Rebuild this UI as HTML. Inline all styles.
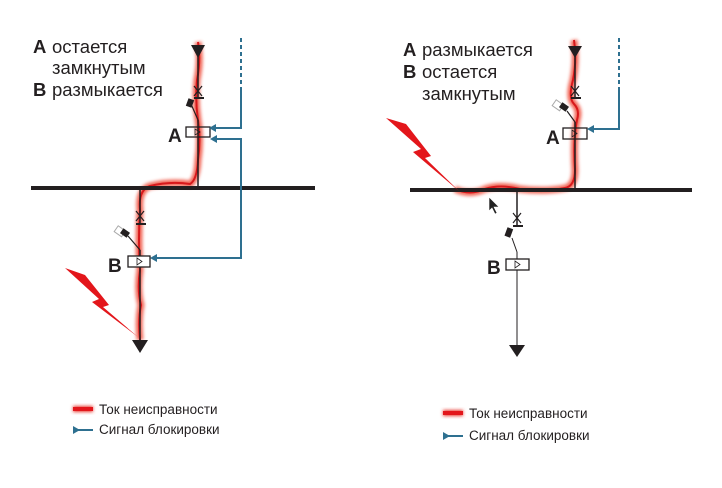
<!DOCTYPE html>
<html><head><meta charset="utf-8"><style>
body{margin:0;background:#fff;width:722px;height:488px;overflow:hidden}
svg{display:block}
text{font-family:"Liberation Sans",sans-serif;fill:#231f20}
</style></head><body>
<svg width="722" height="488" viewBox="0 0 722 488">
<defs>
<filter id="glow" x="-50%" y="-50%" width="200%" height="200%"><feGaussianBlur stdDeviation="1.6"/></filter>
</defs>
<!-- LEFT -->
<text x="33" y="53" font-size="18.5" font-weight="bold">A</text><text x="52" y="53" font-size="18.5">остается</text>
<text x="52" y="74" font-size="18.5">замкнутым</text>
<text x="33" y="96" font-size="18.5" font-weight="bold">B</text><text x="52" y="96" font-size="18.5">размыкается</text>

<path d="M198 42 Q201 60 197 80 Q195 100 198 120 Q201 140 198 160 Q197 180 190 184 Q170 181 150 186 Q138 190 140 210 Q138 240 140 270 Q137 290 141 305 Q138 320 140 340" fill="none" stroke="#f05a4a" stroke-width="7" filter="url(#glow)" opacity="0.9"/>
<path d="M198 42 Q201 60 197 80 Q195 100 198 120 Q201 140 198 160 Q197 180 190 184 Q170 181 150 186 Q138 190 140 210 Q138 240 140 270 Q137 290 141 305 Q138 320 140 340" fill="none" stroke="#d7191c" stroke-width="2"/>

<line x1="31" y1="188" x2="315" y2="188" stroke="#231f20" stroke-width="4"/>
<polygon points="191,45 205,45 198,58" fill="#231f20"/>
<line x1="198" y1="45" x2="198" y2="98" stroke="#231f20" stroke-width="1.5"/>
<path d="M194 86 L202 96 M202 86 L194 96" stroke="#231f20" stroke-width="1.2"/>
<line x1="194" y1="98" x2="204" y2="98" stroke="#231f20" stroke-width="2"/>
<line x1="191" y1="104" x2="198" y2="120" stroke="#231f20" stroke-width="1.2"/>
<rect x="187" y="99" width="6" height="8" fill="#231f20" transform="rotate(20 190 103)"/>
<line x1="198" y1="120" x2="198" y2="188" stroke="#231f20" stroke-width="1.5"/>
<rect x="186" y="127" width="24" height="10" fill="none" stroke="#231f20" stroke-width="1.3"/>
<path d="M195 129 L200 132 L195 135 Z" fill="none" stroke="#231f20" stroke-width="0.8"/>
<text x="168" y="142" font-size="19" font-weight="bold">A</text>
<line x1="241" y1="38" x2="241" y2="88" stroke="#2e7090" stroke-width="2" stroke-dasharray="4,3"/>
<polyline points="241,88 241,128 214,128" fill="none" stroke="#2e7090" stroke-width="2"/>
<polygon points="209,128 216,124 216,132" fill="#2e7090"/>
<polyline points="214,139 241,139 241,258 156,258" fill="none" stroke="#2e7090" stroke-width="2"/>
<polygon points="210,139 217,135 217,143" fill="#2e7090"/>
<polygon points="150,258 157,254 157,262" fill="#2e7090"/>
<line x1="140" y1="188" x2="140" y2="224" stroke="#231f20" stroke-width="1.5"/>
<path d="M136 211 L144 221 M144 211 L136 221" stroke="#231f20" stroke-width="1.2"/>
<line x1="136" y1="224" x2="146" y2="224" stroke="#231f20" stroke-width="2"/>
<rect x="117" y="227" width="7" height="9" fill="none" stroke="#aaa" stroke-width="1" transform="rotate(-55 120 232)"/>
<rect x="122" y="229" width="6" height="8" fill="#231f20" transform="rotate(-55 125 233)"/>
<line x1="128" y1="236" x2="140" y2="250" stroke="#231f20" stroke-width="1.2"/>
<line x1="140" y1="250" x2="140" y2="340" stroke="#231f20" stroke-width="1.5"/>
<rect x="128" y="256" width="22" height="11" fill="#fff" stroke="#231f20" stroke-width="1.3"/>
<path d="M137 258 L142 261.5 L137 265 Z" fill="none" stroke="#231f20" stroke-width="0.8"/>
<text x="108" y="272" font-size="19" font-weight="bold">B</text>
<polygon points="132,340 148,340 140,353" fill="#231f20"/>
<polygon points="65,268 85,275 109,305 103,307 138,337 92,302 99,299" fill="#e3161b"/>

<!-- RIGHT -->
<text x="403" y="56" font-size="18.5" font-weight="bold">A</text><text x="422" y="56" font-size="18.5">размыкается</text>
<text x="403" y="78" font-size="18.5" font-weight="bold">B</text><text x="422" y="78" font-size="18.5">остается</text>
<text x="422" y="100" font-size="18.5">замкнутым</text>

<path d="M455 189 Q470 196 485 189 Q500 184 520 189 Q545 192 565 188 Q575 186 575 170 Q573 140 577 120 Q580 110 574 104 Q568 98 573 80 Q577 60 574 40" fill="none" stroke="#f05a4a" stroke-width="7" filter="url(#glow)" opacity="0.9"/>
<path d="M455 189 Q470 196 485 189 Q500 184 520 189 Q545 192 565 188 Q575 186 575 170 Q573 140 577 120 Q580 110 574 104 Q568 98 573 80 Q577 60 574 40" fill="none" stroke="#d7191c" stroke-width="2"/>

<line x1="410" y1="190" x2="692" y2="190" stroke="#231f20" stroke-width="4"/>
<polygon points="568,46 582,46 575,58" fill="#231f20"/>
<line x1="575" y1="46" x2="575" y2="98" stroke="#231f20" stroke-width="1.5"/>
<path d="M571 86 L579 96 M579 86 L571 96" stroke="#231f20" stroke-width="1.2"/>
<line x1="571" y1="98" x2="581" y2="98" stroke="#231f20" stroke-width="2"/>
<rect x="555" y="101" width="7" height="9" fill="none" stroke="#aaa" stroke-width="1" transform="rotate(-55 558 106)"/>
<rect x="561" y="103" width="6" height="8" fill="#231f20" transform="rotate(-55 564 107)"/>
<line x1="567" y1="111" x2="575" y2="122" stroke="#231f20" stroke-width="1.2"/>
<line x1="575" y1="122" x2="575" y2="190" stroke="#231f20" stroke-width="1.5"/>
<rect x="563" y="128" width="24" height="11" fill="none" stroke="#231f20" stroke-width="1.3"/>
<path d="M572 130 L577 133.5 L572 137 Z" fill="none" stroke="#231f20" stroke-width="0.8"/>
<text x="546" y="144" font-size="19" font-weight="bold">A</text>
<line x1="619" y1="38" x2="619" y2="88" stroke="#2e7090" stroke-width="2" stroke-dasharray="4,3"/>
<polyline points="619,88 619,129 592,129" fill="none" stroke="#2e7090" stroke-width="2"/>
<polygon points="587,129 594,125 594,133" fill="#2e7090"/>

<line x1="517" y1="190" x2="517" y2="226" stroke="#231f20" stroke-width="1.5"/>
<path d="M513 213 L521 223 M521 213 L513 223" stroke="#231f20" stroke-width="1.2"/>
<line x1="513" y1="226" x2="523" y2="226" stroke="#231f20" stroke-width="2"/>
<rect x="506" y="228" width="6" height="9" fill="#231f20" transform="rotate(20 509 232)"/>
<line x1="512" y1="238" x2="517" y2="252" stroke="#231f20" stroke-width="1"/>
<line x1="517" y1="252" x2="517" y2="345" stroke="#231f20" stroke-width="1"/>
<rect x="506" y="259" width="23" height="11" fill="#fff" stroke="#231f20" stroke-width="1.3"/>
<path d="M515 261 L520 264.5 L515 268 Z" fill="none" stroke="#231f20" stroke-width="0.8"/>
<text x="487" y="274" font-size="19" font-weight="bold">B</text>
<polygon points="509,345 525,345 517,357" fill="#231f20"/>
<polygon points="386,118 406,124 431,156 425,158 459,191 413,152 421,149" fill="#e3161b"/>
<path d="M489 197 L489 211 L492 208 L495 214 L497 213 L494 207 L499 207 Z" fill="#222" stroke="#fff" stroke-width="0.6"/>

<!-- legends -->
<rect x="73" y="406" width="20" height="6" fill="#e83a30" filter="url(#glow)"/>
<rect x="73" y="407" width="20" height="4" fill="#e3161b"/>
<text x="99" y="414" font-size="13.5">Ток неисправности</text>
<line x1="74" y1="430" x2="93" y2="430" stroke="#2e7090" stroke-width="2"/>
<polygon points="73,426 80,430 73,434" fill="#2e7090"/>
<text x="99" y="434" font-size="13.5">Сигнал блокировки</text>

<rect x="443" y="410" width="20" height="6" fill="#e83a30" filter="url(#glow)"/>
<rect x="443" y="411" width="20" height="4" fill="#e3161b"/>
<text x="469" y="418" font-size="13.5">Ток неисправности</text>
<line x1="444" y1="436" x2="463" y2="436" stroke="#2e7090" stroke-width="2"/>
<polygon points="443,432 450,436 443,440" fill="#2e7090"/>
<text x="469" y="440" font-size="13.5">Сигнал блокировки</text>
</svg>
</body></html>
